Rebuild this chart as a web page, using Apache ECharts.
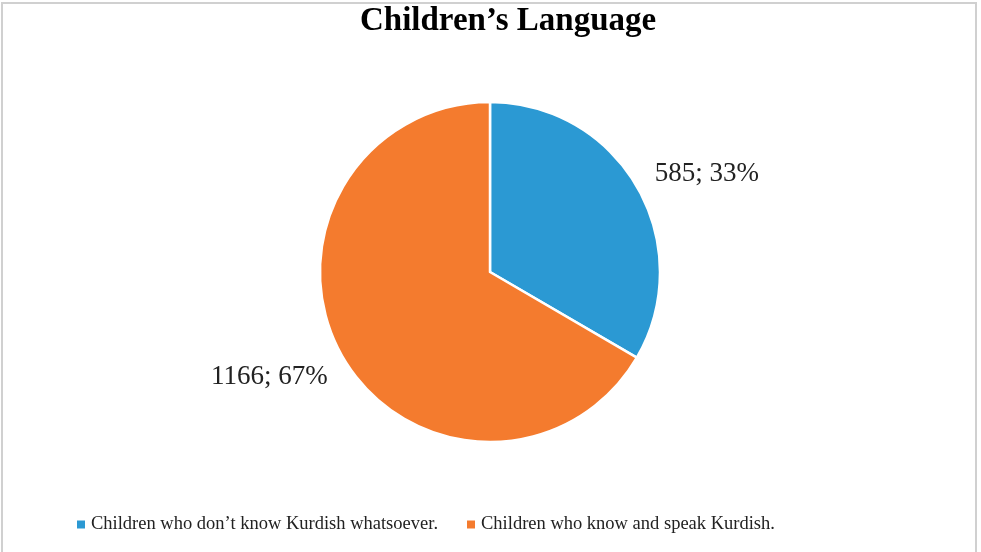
<!DOCTYPE html>
<html>
<head>
<meta charset="utf-8">
<script src="https://cdn.jsdelivr.net/npm/echarts@6/dist/echarts.min.js"></script>
<style>
  html, body { margin: 0; padding: 0; background: #fff; }
  #frame {
    position: absolute; left: 1px; top: 2px; width: 976px; height: 560px;
    border: 2px solid #d0d0d0; box-sizing: border-box;
  }
  #chart { position: absolute; left: 0; top: 0; width: 981px; height: 552px; }
</style>
</head>
<body>
<div id="frame"></div>
<div id="chart"></div>
<script>
// data
const categories = [
  'Children who don\u2019t know Kurdish whatsoever.',
  'Children who know and speak Kurdish.'
]
const counts = [585, 1166]
const percents = [33, 67]
const colors = ['#2b99d3', '#f47b2e']

const chart = echarts.init(document.getElementById('chart'))

chart.setOption({
  title: {
    text: 'Children\u2019s Language',
    left: 355,
    top: 0,
    textStyle: {
      fontFamily: 'Liberation Serif',
      fontWeight: 'bold',
      fontSize: 33,
      color: '#000'
    }
  },
  legend: {
    bottom: 13,
    left: 70,
    icon: 'rect',
    itemWidth: 10,
    itemHeight: 10,
    itemGap: 27,
    textStyle: {
      fontFamily: 'Liberation Serif',
      fontSize: 18.5,
      color: '#222'
    },
    data: categories
  },
  series: [{
    type: 'pie',
    center: [490, 272],
    radius: [0, 170],
    startAngle: 90,
    clockwise: true,
    avoidLabelOverlap: false,
    animation: false,
    itemStyle: {
      borderColor: '#fff',
      borderWidth: 2.5
    },
    label: {
      show: true,
      position: 'outside',
      fontFamily: 'Liberation Serif',
      fontSize: 27,
      color: '#222',
      formatter: function (p) {
        return counts[p.dataIndex] + '; ' + percents[p.dataIndex] + '%'
      }
    },
    labelLine: { show: false, length: 30, length2: 0 },
    labelLayout: function (p) {
      return p.dataIndex === 0 ? { dx: -12, dy: 0 } : { dx: 30, dy: -3 }
    },
    data: categories.map(function (name, i) {
      return {
        name: name,
        value: counts[i],
        itemStyle: { color: colors[i] },
        labelLine: { show: false, length: i === 0 ? 28 : 46, length2: 0 }
      }
    })
  }]
})
</script>
</body>
</html>
